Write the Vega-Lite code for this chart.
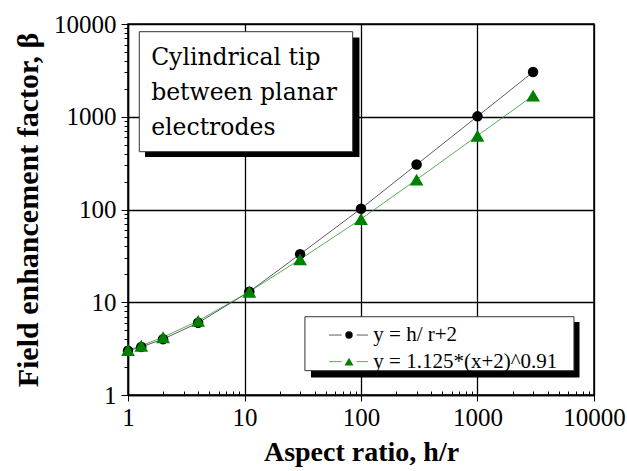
{
  "$schema": "https://vega.github.io/schema/vega-lite/v6.json",
  "width": 466,
  "height": 371,
  "autosize": "none",
  "padding": {"left": 128, "top": 24, "right": 33, "bottom": 76},
  "background": "white",
  "data": {"values": [{"note": "annotation"}]},
  "config": {
    "view": {"stroke": "black", "strokeWidth": 1.5},
    "axis": {
      "domainColor": "black",
      "domainWidth": 1.5,
      "tickColor": "black",
      "tickWidth": 1,
      "gridColor": "black",
      "gridWidth": 1.3,
      "labelFont": "Liberation Serif",
      "labelFontSize": 25,
      "labelColor": "black",
      "titleFont": "Liberation Serif",
      "titleFontSize": 28,
      "titleFontWeight": "bold",
      "titleColor": "black",
      "labelOverlap": false,
      "labelFlush": false
    }
  },
  "datasets": {
    "points": [
      {"ratio": 1, "beta": 3, "series": "y = h/ r+2"},
      {"ratio": 1.3, "beta": 3.3, "series": "y = h/ r+2"},
      {"ratio": 2, "beta": 4, "series": "y = h/ r+2"},
      {"ratio": 4, "beta": 6, "series": "y = h/ r+2"},
      {"ratio": 11, "beta": 13, "series": "y = h/ r+2"},
      {"ratio": 30, "beta": 33, "series": "y = h/ r+2"},
      {"ratio": 100, "beta": 102, "series": "y = h/ r+2"},
      {"ratio": 300, "beta": 305, "series": "y = h/ r+2"},
      {"ratio": 1000, "beta": 1010, "series": "y = h/ r+2"},
      {"ratio": 3000, "beta": 3040, "series": "y = h/ r+2"},
      {"ratio": 1, "beta": 3.05, "series": "y = 1.125*(x+2)^0.91"},
      {"ratio": 1.3, "beta": 3.4, "series": "y = 1.125*(x+2)^0.91"},
      {"ratio": 2, "beta": 4.2, "series": "y = 1.125*(x+2)^0.91"},
      {"ratio": 4, "beta": 6.3, "series": "y = 1.125*(x+2)^0.91"},
      {"ratio": 11, "beta": 13, "series": "y = 1.125*(x+2)^0.91"},
      {"ratio": 30, "beta": 29, "series": "y = 1.125*(x+2)^0.91"},
      {"ratio": 100, "beta": 79, "series": "y = 1.125*(x+2)^0.91"},
      {"ratio": 300, "beta": 210, "series": "y = 1.125*(x+2)^0.91"},
      {"ratio": 1000, "beta": 625, "series": "y = 1.125*(x+2)^0.91"},
      {"ratio": 3000, "beta": 1690, "series": "y = 1.125*(x+2)^0.91"}
    ]
  },
  "layer": [
    {
      "data": {"name": "points"},
      "mark": {"type": "line", "strokeWidth": 0.8},
      "encoding": {
        "x": {
          "field": "ratio", "type": "quantitative",
          "scale": {"type": "log", "domain": [1, 10000], "nice": false},
          "axis": {
            "title": "Aspect ratio, h/r",
            "titlePadding": 8,
            "values": [1,2,3,4,5,6,7,8,9,10,20,30,40,50,60,70,80,90,100,200,300,400,500,600,700,800,900,1000,2000,3000,4000,5000,6000,7000,8000,9000,10000],
            "labelExpr": "indexof([1,10,100,1000,10000], datum.value) >= 0 ? format(datum.value, 'd') : ''",
            "labelPadding": 4,
            "tickSize": {"condition": {"test": "indexof([1,10,100,1000,10000], datum.value) >= 0", "value": 6}, "value": -4},
            "gridOpacity": {"condition": {"test": "indexof([1,10,100,1000,10000], datum.value) >= 0", "value": 1}, "value": 0}
          }
        },
        "y": {
          "field": "beta", "type": "quantitative",
          "scale": {"type": "log", "domain": [1, 10000], "nice": false},
          "axis": {
            "title": "Field enhancement factor, β",
            "titleFontSize": 30,
            "titlePadding": 10,
            "values": [1,2,3,4,5,6,7,8,9,10,20,30,40,50,60,70,80,90,100,200,300,400,500,600,700,800,900,1000,2000,3000,4000,5000,6000,7000,8000,9000,10000],
            "labelExpr": "indexof([1,10,100,1000,10000], datum.value) >= 0 ? format(datum.value, 'd') : ''",
            "labelPadding": 5,
            "tickSize": {"condition": {"test": "indexof([1,10,100,1000,10000], datum.value) >= 0", "value": 7}, "value": 4},
            "gridOpacity": {"condition": {"test": "indexof([1,10,100,1000,10000], datum.value) >= 0", "value": 1}, "value": 0}
          }
        },
        "color": {
          "field": "series", "type": "nominal", "legend": null,
          "scale": {"domain": ["y = h/ r+2", "y = 1.125*(x+2)^0.91"], "range": ["#333333", "#2e9a2e"]}
        }
      }
    },
    {
      "data": {"name": "points"},
      "mark": {"type": "point", "filled": true, "opacity": 1},
      "encoding": {
        "x": {"field": "ratio", "type": "quantitative", "scale": {"type": "log", "domain": [1, 10000], "nice": false}},
        "y": {"field": "beta", "type": "quantitative", "scale": {"type": "log", "domain": [1, 10000], "nice": false}},
        "shape": {
          "field": "series", "type": "nominal", "legend": null,
          "scale": {"domain": ["y = h/ r+2", "y = 1.125*(x+2)^0.91"], "range": ["circle", "triangle-up"]}
        },
        "size": {
          "field": "series", "type": "nominal", "legend": null,
          "scale": {"domain": ["y = h/ r+2", "y = 1.125*(x+2)^0.91"], "range": [110, 190]}
        },
        "fill": {
          "field": "series", "type": "nominal", "legend": null,
          "scale": {"domain": ["y = h/ r+2", "y = 1.125*(x+2)^0.91"], "range": ["#000000", "#008000"]}
        }
      }
    },
    {
      "mark": {"type": "rect", "fill": "black"},
      "encoding": {
        "x": {"datum": 1.40, "type": "quantitative", "scale": {"type": "log", "domain": [1, 10000], "nice": false}},
        "x2": {"datum": 97},
        "y": {"datum": 7150, "type": "quantitative", "scale": {"type": "log", "domain": [1, 10000], "nice": false}},
        "y2": {"datum": 368}
      }
    },
    {
      "mark": {"type": "rect", "fill": "white", "stroke": "#333333", "strokeWidth": 1},
      "encoding": {
        "x": {"datum": 1.25, "type": "quantitative", "scale": {"type": "log", "domain": [1, 10000], "nice": false}},
        "x2": {"datum": 84.9},
        "y": {"datum": 8260, "type": "quantitative", "scale": {"type": "log", "domain": [1, 10000], "nice": false}},
        "y2": {"datum": 420}
      }
    },
    {
      "mark": {"type": "text", "align": "left", "baseline": "alphabetic", "font": "DejaVu Serif", "fontSize": 23.5, "lineHeight": 35, "color": "black"},
      "encoding": {
        "x": {"datum": 1.58, "type": "quantitative", "scale": {"type": "log", "domain": [1, 10000], "nice": false}},
        "y": {"datum": 3614, "type": "quantitative", "scale": {"type": "log", "domain": [1, 10000], "nice": false}},
        "text": {"value": ["Cylindrical tip", "between planar", "electrodes"]}
      }
    },
    {
      "mark": {"type": "rect", "fill": "black"},
      "encoding": {
        "x": {"datum": 37.2, "type": "quantitative", "scale": {"type": "log", "domain": [1, 10000], "nice": false}},
        "x2": {"datum": 7510},
        "y": {"datum": 6.12, "type": "quantitative", "scale": {"type": "log", "domain": [1, 10000], "nice": false}},
        "y2": {"datum": 1.545}
      }
    },
    {
      "mark": {"type": "rect", "fill": "white", "stroke": "#333333", "strokeWidth": 1},
      "encoding": {
        "x": {"datum": 33.0, "type": "quantitative", "scale": {"type": "log", "domain": [1, 10000], "nice": false}},
        "x2": {"datum": 6730},
        "y": {"datum": 6.98, "type": "quantitative", "scale": {"type": "log", "domain": [1, 10000], "nice": false}},
        "y2": {"datum": 1.83}
      }
    },
    {
      "mark": {"type": "rule", "color": "#333333", "strokeWidth": 0.8},
      "encoding": {
        "x": {"datum": 53.1, "type": "quantitative", "scale": {"type": "log", "domain": [1, 10000], "nice": false}},
        "x2": {"datum": 68.3},
        "y": {"datum": 4.43, "type": "quantitative", "scale": {"type": "log", "domain": [1, 10000], "nice": false}}
      }
    },
    {
      "mark": {"type": "rule", "color": "#333333", "strokeWidth": 0.8},
      "encoding": {
        "x": {"datum": 91.9, "type": "quantitative", "scale": {"type": "log", "domain": [1, 10000], "nice": false}},
        "x2": {"datum": 114.8},
        "y": {"datum": 4.43, "type": "quantitative", "scale": {"type": "log", "domain": [1, 10000], "nice": false}}
      }
    },
    {
      "mark": {"type": "rule", "color": "#2e9a2e", "strokeWidth": 0.8},
      "encoding": {
        "x": {"datum": 53.1, "type": "quantitative", "scale": {"type": "log", "domain": [1, 10000], "nice": false}},
        "x2": {"datum": 68.3},
        "y": {"datum": 2.29, "type": "quantitative", "scale": {"type": "log", "domain": [1, 10000], "nice": false}}
      }
    },
    {
      "mark": {"type": "rule", "color": "#2e9a2e", "strokeWidth": 0.8},
      "encoding": {
        "x": {"datum": 91.9, "type": "quantitative", "scale": {"type": "log", "domain": [1, 10000], "nice": false}},
        "x2": {"datum": 114.8},
        "y": {"datum": 2.29, "type": "quantitative", "scale": {"type": "log", "domain": [1, 10000], "nice": false}}
      }
    },
    {
      "mark": {"type": "point", "shape": "circle", "filled": true, "fill": "black", "opacity": 1, "size": 55},
      "encoding": {
        "x": {"datum": 78.9, "type": "quantitative", "scale": {"type": "log", "domain": [1, 10000], "nice": false}},
        "y": {"datum": 4.43, "type": "quantitative", "scale": {"type": "log", "domain": [1, 10000], "nice": false}}
      }
    },
    {
      "mark": {"type": "point", "shape": "triangle-up", "filled": true, "fill": "#008000", "opacity": 1, "size": 80},
      "encoding": {
        "x": {"datum": 78.9, "type": "quantitative", "scale": {"type": "log", "domain": [1, 10000], "nice": false}},
        "y": {"datum": 2.29, "type": "quantitative", "scale": {"type": "log", "domain": [1, 10000], "nice": false}}
      }
    },
    {
      "mark": {"type": "text", "align": "left", "baseline": "middle", "font": "Liberation Serif", "fontSize": 21, "color": "black"},
      "encoding": {
        "x": {"datum": 127.6, "type": "quantitative", "scale": {"type": "log", "domain": [1, 10000], "nice": false}},
        "y": {"datum": 4.43, "type": "quantitative", "scale": {"type": "log", "domain": [1, 10000], "nice": false}},
        "text": {"value": "y = h/ r+2"}
      }
    },
    {
      "mark": {"type": "text", "align": "left", "baseline": "middle", "font": "Liberation Serif", "fontSize": 21, "color": "black"},
      "encoding": {
        "x": {"datum": 127.6, "type": "quantitative", "scale": {"type": "log", "domain": [1, 10000], "nice": false}},
        "y": {"datum": 2.29, "type": "quantitative", "scale": {"type": "log", "domain": [1, 10000], "nice": false}},
        "text": {"value": "y = 1.125*(x+2)^0.91"}
      }
    }
  ]
}
